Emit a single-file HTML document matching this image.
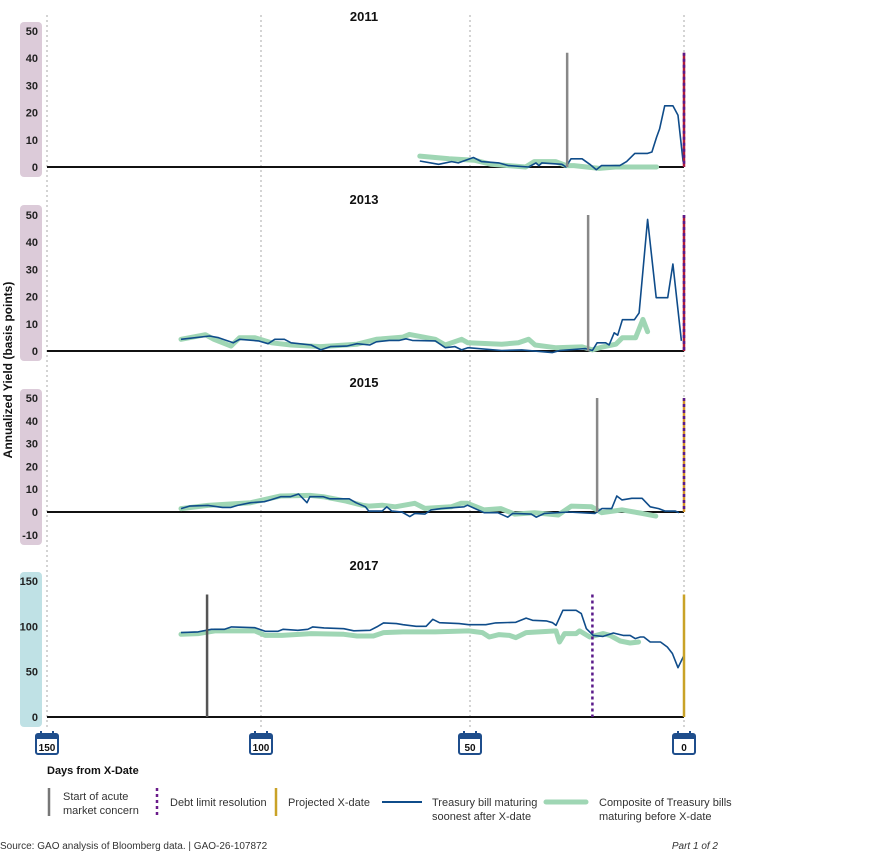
<!DOCTYPE html>
<html><head><meta charset="utf-8"><style>
body{margin:0;background:#fff;font-family:"Liberation Sans",sans-serif;}
svg text{font-family:"Liberation Sans",sans-serif;}
</style></head><body>
<svg id="c" width="878" height="861" viewBox="0 0 878 861" xmlns="http://www.w3.org/2000/svg"></svg>
<script>
const dayTicks=[150,100,50,0];
const years=["2011","2013","2015","2017"];
// 2011
const b11d=[62,57.5,54.4,52.8,49.2,47.3,43.3,41,36.3,34.6,33.9,33.2,28.5,27.6,26.4,23.8,22,20.5,19.3,15,13.4,11.5,8.5,7.5,6.4,5.7,4.5,2.6,1.4,0.2];
const b11v=[2.2,1,2,1.5,3.5,2,1.5,0.5,0,1.5,0.5,1.5,1,0,3,3,1,-1,0.5,0.5,2,5,5,5.5,11,14,22.5,22.5,19,2];
const g11d=[62,55,49,45,41,37,35,30,27.5,25.7,19.8,16,11.8,6.4];
const g11v=[4,3,2.5,1,0.5,0,2,2,0.5,0.5,-0.5,0,0,0];
// 2013
const b13d=[118.7,112,109.9,106.5,105,100.6,98.3,96.7,94.4,92.8,88,85.7,83.4,79.5,77,74,72.4,69.3,66.9,65.3,63.8,58.3,55.9,53.6,52,50.5,42.6,37.9,30.8,29,23,21.4,20.3,18.3,17.5,16.3,15.5,14.4,11.6,10.5,8.5,6.5,3.8,2.6,0.6];
const b13v=[4.3,5.5,4.9,3,4.3,3.7,2.7,4.3,4.3,3,2.2,0.4,1.6,1.8,2.7,2.2,3.4,3.9,3.9,4.5,3.9,3.7,1.2,1.6,0.4,1.2,0.2,0.4,-0.6,0.2,0.9,0.2,3,3,2.2,6.7,5.8,11.5,11.5,14,48.4,19.6,19.6,32,3.7];
const g13d=[118.7,113,111,107,105,101.4,97.5,92.8,85.7,77,72.4,66,64.5,58.3,55.9,52,50.5,42.6,38.7,36.3,34.8,30,23.8,21.4,19,15.9,14.4,11.3,9.6,8.5];
const g13v=[4.3,6,4.3,1.8,4.9,4.9,3,2.2,1.6,2.5,4.3,5.1,6.1,4.3,2.2,4.3,3,2.5,3,4.3,2.2,1.2,1.5,0.4,1.5,2.5,4.9,4.9,11.6,7.1];
// 2015
const b15d=[118.7,116.7,112.4,109,107,105.5,102.4,99.2,97.7,95.3,93,91,89,88.3,85.1,83.6,78.9,77.3,75,74.2,71,69.9,68.7,66.3,64.4,63.2,60.8,59.3,56.9,51.4,50.6,46.7,43.5,41.2,40,35.7,34.5,32.6,27,20.8,19.2,16.9,15.7,14.5,12.2,9.8,7.9,5.9,4.4,2,1.2];
const b15v=[1.5,2.6,2.9,2,2,2.9,4.1,4.5,5.3,6.7,6.7,7.9,4.1,6.7,6.7,5.8,5.8,4.1,2.3,0.4,0.4,2.3,0.4,0,-2,-0.6,-0.9,0.9,1.5,2.3,3,-0.3,-0.3,-2.3,-0.6,-0.9,-2.3,-0.6,0,-0.6,1.5,1.5,7,5.3,6,6,2.3,1.5,0.4,0.4,-0.3];
const g15d=[118.7,112.4,102.4,95.3,88.3,85.1,79.7,75.8,74.2,71,67.9,63.2,60.8,54.5,52.2,50.6,46.7,42.8,39.6,34.9,29.4,26.3,21.6,19.2,14.5,9.8,6.6];
const g15v=[1.5,2.9,4.1,7,7.3,6.7,4.8,3,2.6,3,2.3,3.8,1.6,2.3,3.8,3.8,0.9,1.5,-0.9,-0.3,-1.3,2.6,2.3,-0.3,0.9,-0.6,-1.8];
// 2017
const b17d=[118.7,114.7,111.6,108.5,106.9,101.4,99,95.9,94.7,91.2,88.8,87.6,84.9,80.2,77.8,73.9,72.3,70.7,67.6,66,62.9,60.5,58.9,57.3,52.6,50.3,46.3,44,39.3,36.9,35.4,32.2,30.7,29.9,28.3,25.2,24,22.8,21.2,18.9,16.5,14.2,12.6,11.4,10.2,9.4,7.9,5.5,3.9,2.7,1.4,0];
const b17v=[93,93.8,96.7,96.7,99.3,98.5,94.5,94.5,96.7,95.6,96.7,99.3,98.2,97.4,95,95.6,99.3,103.7,103,101.8,100,100,107.7,104,103,101.8,101.8,103.7,104.4,109,106.6,105.9,104,101,117.6,117.6,114,97.4,90,88.9,92.6,90,90,86.4,88.2,88.2,82.7,82.7,77.2,70,54.4,68];
const g17d=[118.7,114.7,110.8,101.4,99,95,88,80.2,77,73.1,70.7,66,58.3,50.3,47.1,45.5,43.2,40.8,39.3,36.9,29.9,29.1,27.9,25.2,24.4,22,18.9,17.3,14.9,12.6,10.6];
const g17v=[91.2,91.9,94.9,94.9,90,90,91.9,91.2,89.3,89.3,93,93.8,93.8,94.9,93,88.2,90.8,90,87.5,93,94.9,82.7,91.9,91.9,94.9,88.2,91.9,90,83.8,81.6,82.7];
// event markers (days from X-date) and cap values
const acuteDays=[27.3,22.4,20.3,112.6];
const resolutionDays=[0,0,0,21.4];
const markerTop=[42,50,50,135];

const NS="http://www.w3.org/2000/svg";
const svg=document.getElementById('c');
function el(t,a,p){const e=document.createElementNS(NS,t);for(const k in a)e.setAttribute(k,a[k]);(p||svg).appendChild(e);return e;}
const tickPx=[47,261,470,684];
function X(d){
 for(let i=0;i<dayTicks.length-1;i++){const a=dayTicks[i],b=dayTicks[i+1];
  if(d<=a&&d>=b)return tickPx[i]+(a-d)/(a-b)*(tickPx[i+1]-tickPx[i]);}
 return d>150?tickPx[0]-(d-150)*4.25:tickPx[3]+(0-d)*4.25;}
const panels=[
 {zero:167,ppu:2.72,ticks:[50,40,30,20,10,0],box:[22,177],col:"#dccbd9",title:16,b:[b11d,b11v],g:[g11d,g11v]},
 {zero:351,ppu:2.72,ticks:[50,40,30,20,10,0],box:[205,361],col:"#dccbd9",title:199,b:[b13d,b13v],g:[g13d,g13v]},
 {zero:512,ppu:2.28,ticks:[50,40,30,20,10,0,-10],box:[389,545],col:"#dccbd9",title:382,b:[b15d,b15v],g:[g15d,g15v]},
 {zero:717,ppu:0.907,ticks:[150,100,50,0],box:[572,727],col:"#bfe1e5",title:565,b:[b17d,b17v],g:[g17d,g17v]}
];
dayTicks.forEach(d=>{const l=el('line',{x1:X(d),x2:X(d),y1:15,y2:727,stroke:'#aaa','stroke-width':1,'stroke-dasharray':'2,3'});
});
panels.forEach((p,i)=>{
 const Y=v=>p.zero-v*p.ppu;
 const g=el('g',{});
 const bx=el('rect',{x:20,y:p.box[0],width:22,height:p.box[1]-p.box[0],rx:4,fill:p.col},g);
 
 p.ticks.forEach(t=>{const tx=el('text',{x:38,y:Y(t)+4,'text-anchor':'end','font-size':11,'font-weight':'bold',fill:'#222'},g);tx.textContent=t;
 });
 const tt=el('text',{x:364,y:p.title+5,'text-anchor':'middle','font-size':13,'font-weight':'bold',fill:'#111'},g);tt.textContent=years[i];
 
 const ax=el('line',{x1:47,x2:684,y1:p.zero,y2:p.zero,stroke:'#111','stroke-width':2},g);
 
 const pts=(dd,vv)=>dd.map((d,k)=>X(d).toFixed(1)+','+Y(vv[k]).toFixed(1)).join(' ');
 const gl=el('polyline',{points:pts(p.g[0],p.g[1]),fill:'none',stroke:'#9fd6b4','stroke-width':5,'stroke-linejoin':'round','stroke-linecap':'round'},g);
 
 const bl=el('polyline',{points:pts(p.b[0],p.b[1]),fill:'none',stroke:'#0f4c8a','stroke-width':1.6,'stroke-linejoin':'round'},g);
 
 const top=Y(markerTop[i]);
 const ac=el('line',{x1:X(acuteDays[i]),x2:X(acuteDays[i]),y1:top,y2:p.zero,stroke:i==3?'#555':'#888','stroke-width':2.5},g);
 
 const xd=el('line',{x1:684,x2:684,y1:top,y2:p.zero,stroke:i==3?'#c9a227':(i==2?'#d4922a':'#b01d3a'),'stroke-width':2.5},g);
 
 const rs=el('line',{x1:X(resolutionDays[i]),x2:X(resolutionDays[i]),y1:top,y2:p.zero,stroke:'#5a1a8a','stroke-width':2.5,'stroke-dasharray':'3,3'},g);
 
});
dayTicks.forEach(d=>{const cx=X(d);const g=el('g',{});
 el('rect',{x:cx-11,y:734,width:22,height:20,rx:2,fill:'#fff',stroke:'#1f4e8c','stroke-width':2},g);
 el('rect',{x:cx-11,y:734,width:22,height:5,fill:'#1f4e8c'},g);
 el('rect',{x:cx-7,y:731,width:2,height:5,fill:'#1f4e8c'},g);el('rect',{x:cx+5,y:731,width:2,height:5,fill:'#1f4e8c'},g);
 const t=el('text',{x:cx,y:751,'text-anchor':'middle','font-size':10,'font-weight':'bold',fill:'#111'},g);t.textContent=d;});
const xt=el('text',{x:47,y:774,'font-size':11,'font-weight':'bold',fill:'#111'});xt.textContent='Days from X-Date';

const yt=el('text',{x:0,y:0,'font-size':12,'font-weight':'bold',fill:'#111','text-anchor':'middle',transform:'translate(12,370) rotate(-90)'});yt.textContent='Annualized Yield (basis points)';

const lg=el('g',{});
function txt(x,y,s,extra){const t=el('text',Object.assign({x:x,y:y,'font-size':11,fill:'#333'},extra||{}),lg);t.textContent=s;return t;}
el('line',{x1:49,x2:49,y1:788,y2:816,stroke:'#777','stroke-width':2.5},lg);
txt(63,800,'Start of acute');txt(63,814,'market concern');
el('line',{x1:157,x2:157,y1:788,y2:816,stroke:'#6a1b8a','stroke-width':2.5,'stroke-dasharray':'3,3'},lg);
txt(170,806,'Debt limit resolution');
el('line',{x1:276,x2:276,y1:788,y2:816,stroke:'#c9a227','stroke-width':2.5},lg);
txt(288,806,'Projected X-date');
el('line',{x1:382,x2:422,y1:802,y2:802,stroke:'#0f4c8a','stroke-width':2},lg);
txt(432,806,'Treasury bill maturing');txt(432,820,'soonest after X-date');
el('line',{x1:546,x2:586,y1:802,y2:802,stroke:'#9fd6b4','stroke-width':5,'stroke-linecap':'round'},lg);
txt(599,806,'Composite of Treasury bills');txt(599,820,'maturing before X-date');
const src=el('text',{x:0,y:849,'font-size':10,fill:'#333'});src.textContent='Source: GAO analysis of Bloomberg data.  |  GAO-26-107872';

const pg=el('text',{x:718,y:849,'font-size':10,fill:'#333','font-style':'italic','text-anchor':'end'});pg.textContent='Part 1 of 2';

</script>
</body></html>
